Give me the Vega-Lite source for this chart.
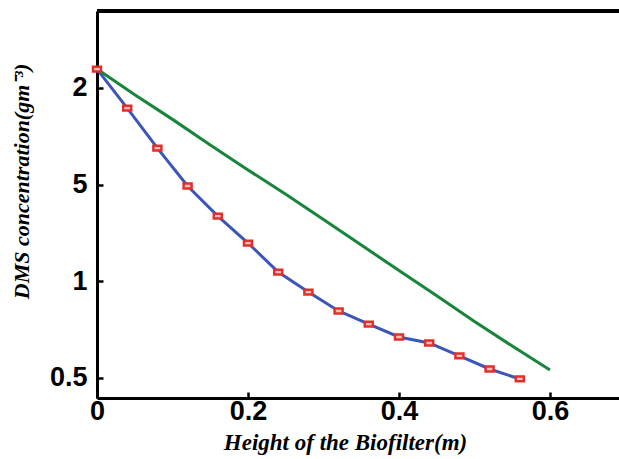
{
  "$schema": "https://vega.github.io/schema/vega-lite/v6.json",
  "width": 522,
  "height": 387,
  "autosize": "none",
  "padding": {"left": 97, "top": 11, "right": 0, "bottom": 61},
  "background": "white",
  "config": {"view": {"stroke": null}},
  "data": {"values": [
    {"h": 0, "c": 4.195, "series": "blue"},
    {"h": 0.04, "c": 3.792, "series": "blue"},
    {"h": 0.08, "c": 3.378, "series": "blue"},
    {"h": 0.12, "c": 2.986, "series": "blue"},
    {"h": 0.16, "c": 2.675, "series": "blue"},
    {"h": 0.20, "c": 2.396, "series": "blue"},
    {"h": 0.24, "c": 2.096, "series": "blue"},
    {"h": 0.28, "c": 1.889, "series": "blue"},
    {"h": 0.32, "c": 1.693, "series": "blue"},
    {"h": 0.36, "c": 1.558, "series": "blue"},
    {"h": 0.40, "c": 1.424, "series": "blue"},
    {"h": 0.44, "c": 1.362, "series": "blue"},
    {"h": 0.48, "c": 1.228, "series": "blue"},
    {"h": 0.52, "c": 1.093, "series": "blue"},
    {"h": 0.56, "c": 0.990, "series": "blue"},
    {"h": 0, "c": 4.195, "series": "green"},
    {"h": 0.05, "c": 3.93, "series": "green"},
    {"h": 0.1, "c": 3.675, "series": "green"},
    {"h": 0.15, "c": 3.41, "series": "green"},
    {"h": 0.2, "c": 3.152, "series": "green"},
    {"h": 0.25, "c": 2.9, "series": "green"},
    {"h": 0.3, "c": 2.64, "series": "green"},
    {"h": 0.35, "c": 2.375, "series": "green"},
    {"h": 0.4, "c": 2.112, "series": "green"},
    {"h": 0.45, "c": 1.85, "series": "green"},
    {"h": 0.5, "c": 1.585, "series": "green"},
    {"h": 0.55, "c": 1.33, "series": "green"},
    {"h": 0.6, "c": 1.083, "series": "green"}
  ]},
  "encoding": {
    "x": {
      "field": "h", "type": "quantitative",
      "scale": {"domain": [0, 0.6914], "nice": false, "zero": false},
      "axis": {
        "values": [0, 0.2, 0.4, 0.6],
        "format": ".1~f",
        "title": "Height of the Biofilter(m)",
        "titleFont": "Liberation Serif", "titleFontStyle": "italic", "titleFontWeight": "bold",
        "titleFontSize": 23, "titleColor": "black",
        "titleX": 248, "titleY": 44, "titleBaseline": "middle", "titleAnchor": null,
        "labelFont": "Liberation Sans", "labelFontWeight": "bold", "labelFontSize": 27, "labelColor": "black",
        "labelPadding": 6, "labelFlush": false,
        "domainColor": "black", "domainWidth": 3,
        "tickColor": "black", "tickWidth": 2.5, "tickSize": -6,
        "grid": false
      }
    },
    "y": {
      "field": "c", "type": "quantitative",
      "scale": {"domain": [0.793, 4.796], "nice": false, "zero": false},
      "axis": {
        "values": [1, 2, 3, 4],
        "labelExpr": "datum.value == 1 ? '0.5' : datum.value == 2 ? '1' : datum.value == 3 ? '5' : '2'",
        "title": "DMS concentration(gm⁻³)",
        "titleFont": "Liberation Serif", "titleFontStyle": "italic", "titleFontWeight": "bold",
        "titleFontSize": 22, "titleColor": "black",
        "titleX": -76, "titleY": 170, "titleAngle": -90, "titleBaseline": "middle", "titleAnchor": null,
        "labelFont": "Liberation Sans", "labelFontWeight": "bold", "labelFontSize": 27, "labelColor": "black",
        "labelPadding": 16, "labelBaseline": "middle",
        "domainColor": "black", "domainWidth": 3,
        "tickColor": "black", "tickWidth": 2.5, "tickSize": -6,
        "grid": false
      }
    }
  },
  "layer": [
    {
      "mark": {"type": "rule", "color": "black", "strokeWidth": 2.5},
      "encoding": {
        "x": {"datum": 0},
        "x2": {"datum": 0.6914},
        "y": {"datum": 4.796}
      }
    },
    {
      "mark": {"type": "line", "strokeWidth": 3},
      "encoding": {
        "color": {
          "field": "series", "type": "nominal",
          "scale": {"domain": ["blue", "green"], "range": ["#3b55b8", "#18853a"]},
          "legend": null
        }
      }
    },
    {
      "transform": [{"filter": "datum.series == 'blue'"}],
      "mark": {
        "type": "point",
        "shape": "M-1,-0.6L1,-0.6L1,0.6L-1,0.6Z",
        "size": 64,
        "filled": false,
        "stroke": "#e0302c",
        "strokeWidth": 2.5,
        "fill": "#f6c0c0",
        "fillOpacity": 1,
        "opacity": 1
      }
    }
  ]
}
